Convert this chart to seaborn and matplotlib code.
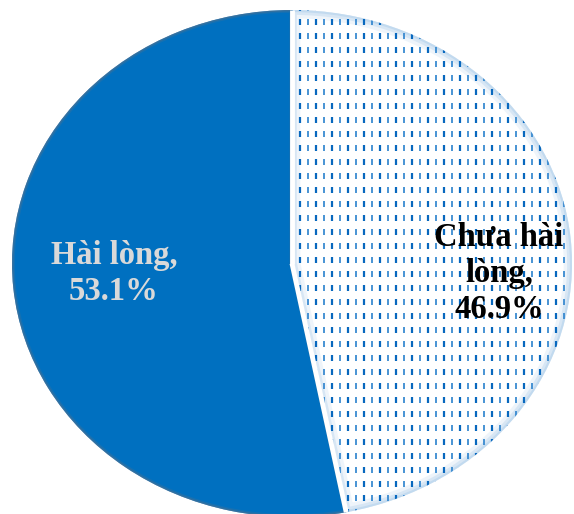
import matplotlib
matplotlib.use("Agg")
import matplotlib.pyplot as plt
import seaborn as sns
import numpy as np
from matplotlib.patches import PathPatch

# Survey result: share of respondents by satisfaction
categories = ["Hài lòng", "Chưa hài lòng"]
shares = [53.1, 46.9]
slice_labels = ["Hài lòng,\n53.1%", "Chưa hài\nlòng,\n46.9%"]

sns.set_theme(style="white")
plt.rcParams["font.family"] = ["Liberation Serif", "DejaVu Serif"]
plt.rcParams["lines.scale_dashes"] = False

fig = plt.figure(figsize=(5.74, 5.14), dpi=100)
ax = fig.add_axes([12 / 574, -3 / 514, 560 / 574, 507 / 514])

wedges, _ = ax.pie(
    shares,
    startangle=90,
    counterclock=True,
    colors=["#0070C0", "white"],
    wedgeprops=dict(linewidth=0),
)
ax.set_aspect("auto")
ax.set_xlim(-1, 1)
ax.set_ylim(-1, 1)
ax.axis("off")

solid, dotted = wedges

# soft darker rim on the solid slice
for lw, a in [(4, 0.25), (2, 0.5)]:
    rim = PathPatch(solid.get_path(), transform=solid.get_transform(),
                    fill=False, edgecolor="#56708C", linewidth=lw, alpha=a, zorder=2)
    rim.set_clip_path(solid)
    ax.add_patch(rim)

# pale blue glow along the inner edge of the patterned slice
for lw, a in [(12, 0.25), (7, 0.45), (3, 0.8)]:
    glow = PathPatch(dotted.get_path(), transform=dotted.get_transform(),
                     fill=False, edgecolor="#BDD7EE", linewidth=lw, alpha=a, zorder=2)
    glow.set_clip_path(dotted)
    ax.add_patch(glow)

# dashed vertical pattern filling the second slice (6 px dash, 8 px gap)
px = 72 / 100
xs = np.arange(-1.0, 1.0, 8 / 280)
for i, x in enumerate(xs):
    col = "#0868BE" if i % 2 == 0 else "#2F84CE"
    width = 2.2 * px if i % 2 == 0 else 1.7 * px
    ln, = ax.plot([x, x], [-1.05, 1.05], color=col, linewidth=width,
                  linestyle=(0, (6 * px, 8 * px)), dash_capstyle="butt", zorder=3)
    ln.set_clip_path(dotted)

# white separators between the slices
for ang in (solid.theta1, solid.theta2):
    t = np.deg2rad(ang)
    ax.plot([0, np.cos(t)], [0, np.sin(t)], color="white", linewidth=3.5,
            solid_capstyle="butt", zorder=4)

ax.text(-0.636, -0.04, slice_labels[0], ha="center", va="center",
        fontsize=23.5, fontweight="bold", color="#D9D9D9", linespacing=1.2, zorder=5)
ax.text(0.739, -0.04, slice_labels[1], ha="center", va="center",
        fontsize=23.5, fontweight="bold", color="black", linespacing=1.2, zorder=5)

fig.savefig("out.png", dpi=100)
